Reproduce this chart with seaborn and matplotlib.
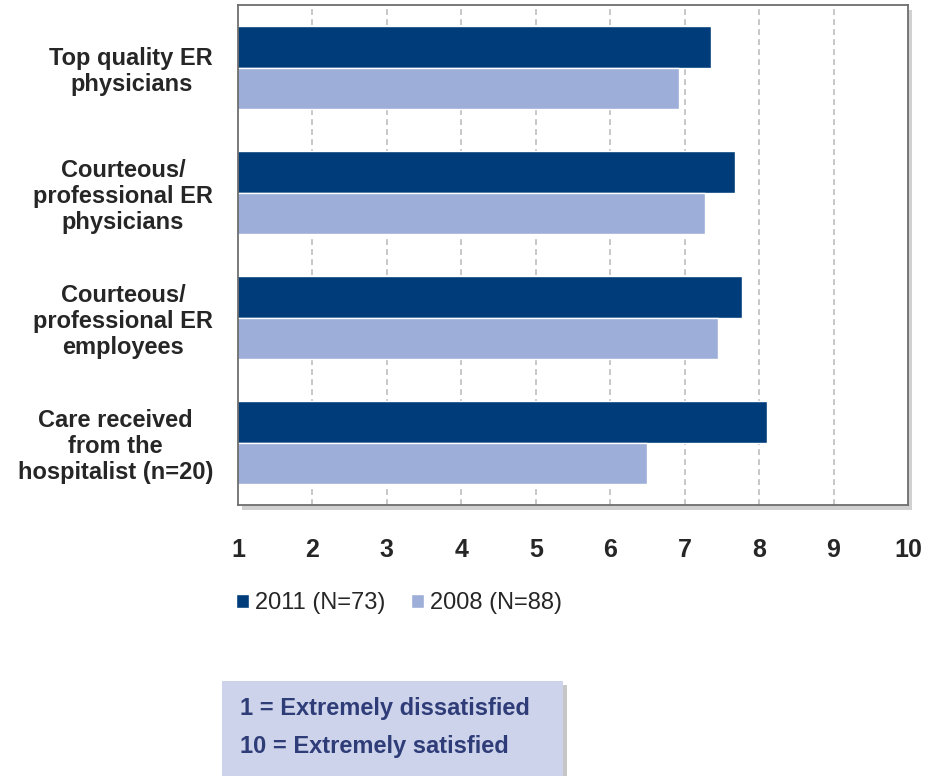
import pandas as pd
import matplotlib
matplotlib.use("Agg")
import matplotlib.pyplot as plt
import matplotlib.patches as mpatches
import seaborn as sns

# data
items = ["Top quality ER\nphysicians",
         "Courteous/\nprofessional ER\nphysicians",
         "Courteous/\nprofessional ER\nemployees",
         "Care received\nfrom the\nhospitalist (n=20)"]
scores_2011 = [7.36, 7.68, 7.77, 8.10]
scores_2008 = [6.92, 7.27, 7.45, 6.50]
series = ["2011 (N=73)", "2008 (N=88)"]
ticks = [1, 2, 3, 4, 5, 6, 7, 8, 9, 10]

dark = "#003C7A"
light = "#9DAED8"

df = pd.DataFrame({
    "item": items * 2,
    "score": scores_2011 + scores_2008,
    "year": [series[0]] * 4 + [series[1]] * 4,
})

sns.set_style("white")
plt.rcParams["font.family"] = ["Liberation Sans", "DejaVu Sans"]

fig = plt.figure(figsize=(9.38, 7.76), dpi=100)
ax = fig.add_axes([238 / 938, 1 - 505 / 776, 670 / 938, 500 / 776])

# shadow behind the plot frame
shadow = mpatches.Rectangle((242 / 938, 1 - 510 / 776), 670 / 938, 500 / 776,
                            transform=fig.transFigure, facecolor="#9a9a9a",
                            alpha=0.45, edgecolor="none", zorder=-1)
fig.add_artist(shadow)

sns.barplot(data=df, y="item", x="score", hue="year", order=items,
            hue_order=series, palette=[dark, light], width=0.664,
            orient="h", saturation=1, ax=ax, zorder=3)

ax.set_xlim(1, 10)
ax.set_ylim(3.5, -0.5)
ax.set_xticks(ticks)
ax.set_xticklabels([str(t) for t in ticks], fontsize=18, fontweight="bold")
ax.set_yticks(range(len(items)))
ax.set_yticklabels(items, fontsize=17, fontweight="bold", multialignment="center",
                   linespacing=1.15)
ax.tick_params(axis="x", length=0, pad=24)
ax.tick_params(axis="y", length=0, pad=18)
ax.set_xlabel("")
ax.set_ylabel("")
ax.set_facecolor("white")
for x in ticks[1:-1]:
    ax.axvline(x, color="#BDBDBD", linestyle=(0, (3.5, 2.5)), linewidth=1.2, zorder=1)
for s in ax.spines.values():
    s.set_visible(True)
    s.set_color("#6E6E6E")
    s.set_linewidth(1.3)
ax.spines["left"].set_zorder(4)

# legend below the axes
handles, labels = ax.get_legend_handles_labels()
ax.get_legend().remove()
fig.legend(handles, labels, loc="center left", bbox_to_anchor=(215 / 938, 1 - 603 / 776),
           ncol=2, frameon=False, fontsize=17, handlelength=0.55, handleheight=0.55,
           handletextpad=0.25, columnspacing=1.1)

# scale note box
box_shadow = mpatches.Rectangle((226 / 938, -0.02), 341 / 938, 0.02 + 1 - 685 / 776,
                                transform=fig.transFigure, facecolor="#8f8f8f",
                                alpha=0.5, edgecolor="none", zorder=1)
fig.add_artist(box_shadow)
box = mpatches.Rectangle((222 / 938, -0.02), 341 / 938, 0.02 + 1 - 681 / 776,
                         transform=fig.transFigure, facecolor="#CDD3EA",
                         edgecolor="none", zorder=2)
fig.add_artist(box)
fig.text(240 / 938, 1 - 709 / 776, "1 = Extremely dissatisfied", fontsize=17,
         fontweight="bold", color="#2E3C78", va="center", zorder=3)
fig.text(240 / 938, 1 - 747 / 776, "10 = Extremely satisfied", fontsize=17,
         fontweight="bold", color="#2E3C78", va="center", zorder=3)

fig.savefig("out.png", dpi=100)
